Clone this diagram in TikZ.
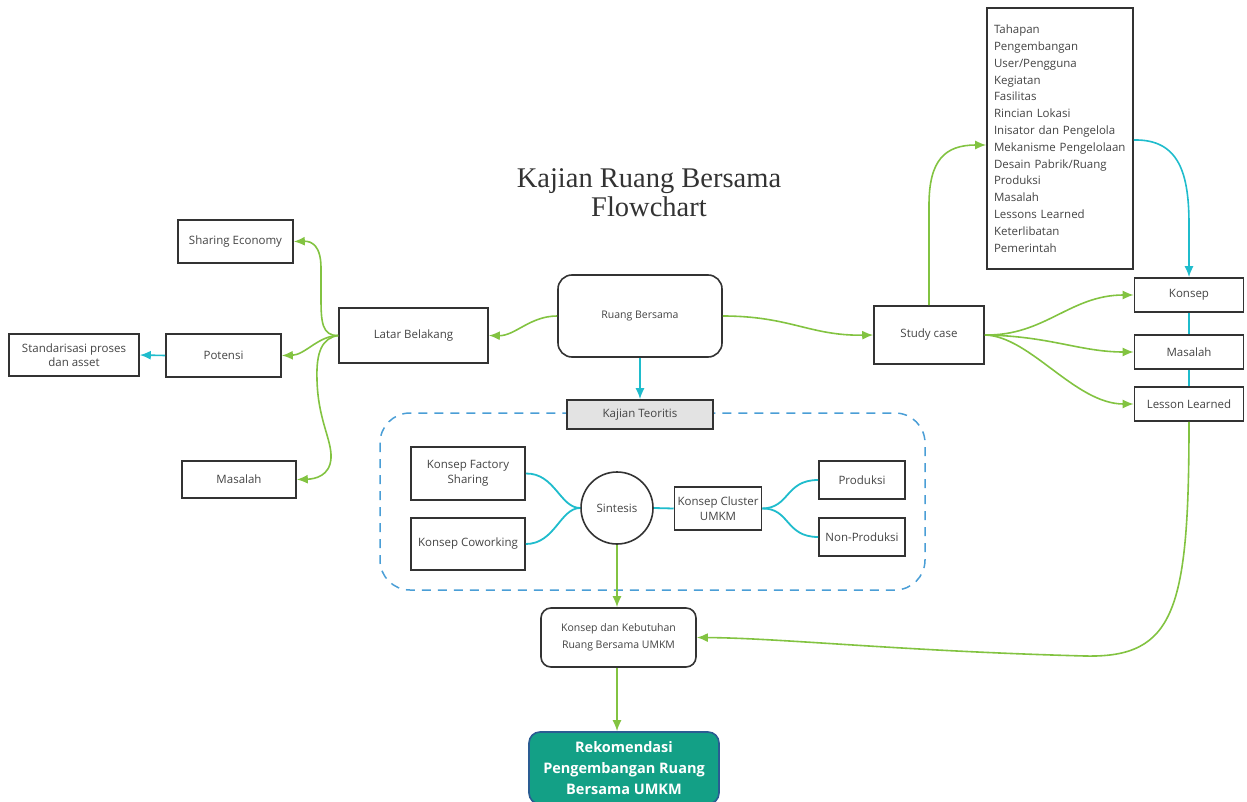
\documentclass[tikz,border=0pt]{standalone}
\usepackage{fontspec}
\setmainfont{Open Sans}
\newfontfamily\titlefont{Liberation Serif}
\usetikzlibrary{arrows.meta}
\definecolor{flowgreen}{HTML}{82C341}
\definecolor{flowcyan}{HTML}{1FBCCC}
\definecolor{framegray}{HTML}{333333}
\definecolor{txtgray}{HTML}{444444}
\definecolor{dashblue}{HTML}{4A9ED6}
\definecolor{recfill}{HTML}{13A086}
\definecolor{recborder}{HTML}{2A5C92}
\tikzset{
  box/.style={draw=framegray, line width=1.6pt, fill=white, text=txtgray,
    font=\fontsize{11.5}{14.5}\selectfont, align=center, inner sep=3pt},
  roundbox/.style={box, rounded corners=12pt},
  greenarrow/.style={draw=flowgreen, line width=1.6pt,
    -{Latex[length=11pt,width=9pt]}},
  cyanarrow/.style={draw=flowcyan, line width=1.6pt,
    -{Latex[length=11pt,width=9pt]}},
  cyanline/.style={draw=flowcyan, line width=1.8pt},
}
\begin{document}
\begin{tikzpicture}[x=1pt,y=-1pt]
\useasboundingbox (0,0) rectangle (1247,802);

% title
\node[font=\titlefont\fontsize{28.5}{29}\selectfont, text=framegray, align=center]
  (title) at (649,193) {Kajian Ruang Bersama\\Flowchart};

% theory group frame
\draw[dashblue, line width=1.5pt, dash pattern=on 9pt off 7pt, rounded corners=30pt]
  (380,413) rectangle (925,590);

% nodes
\node[roundbox, minimum width=164pt, minimum height=82pt, rounded corners=14pt,
  font=\fontsize{10.5}{13}\selectfont] (rb) at (640,316) {Ruang Bersama};
\node[box, minimum width=149pt, minimum height=55pt] (lb) at (413.5,335.5) {Latar Belakang};
\node[box, minimum width=115pt, minimum height=43pt] (se) at (235.5,241.5) {Sharing Economy};
\node[box, minimum width=115pt, minimum height=43pt] (pot) at (223.5,355.5) {Potensi};
\node[box, minimum width=130pt, minimum height=42pt] (std) at (74,355) {Standarisasi proses\\dan asset};
\node[box, minimum width=114pt, minimum height=37pt] (masL) at (239,479.5) {Masalah};
\node[box, minimum width=110pt, minimum height=58pt] (sc) at (929,335) {Study case};
\node[box, minimum width=146pt, minimum height=261pt, align=left, text width=132pt,
  inner xsep=7pt, font=\fontsize{11.5}{16.8}\selectfont] (list) at (1060,138.5)
  {Tahapan\\Pengembangan\\User/Pengguna\\Kegiatan\\Fasilitas\\Rincian Lokasi\\Inisator dan Pengelola\\Mekanisme Pengelolaan\\Desain Pabrik/Ruang\\Produksi\\Masalah\\Lessons Learned\\Keterlibatan\\Pemerintah};
\node[box, minimum width=109pt, minimum height=34pt] (kon) at (1189,295) {Konsep};
\node[box, minimum width=109pt, minimum height=34pt] (masR) at (1189,352) {Masalah};
\node[box, minimum width=109pt, minimum height=34pt] (ll) at (1189,404) {Lesson Learned};
\node[box, fill=gray!22, minimum width=146pt, minimum height=29pt] (kt) at (640,414.5) {Kajian Teoritis};
\node[box, minimum width=114pt, minimum height=53pt] (kfs) at (468,473.5) {Konsep Factory\\Sharing};
\node[box, minimum width=114pt, minimum height=52pt] (kc) at (468,544) {Konsep Coworking};
\node[box, circle, minimum size=72pt, inner sep=0pt] (sin) at (617,508) {Sintesis};
\node[box, minimum width=78pt, minimum height=43pt] (kcu) at (718,508.5) {Konsep Cluster\\UMKM};
\node[box, minimum width=86pt, minimum height=38pt] (prod) at (862,480) {Produksi};
\node[box, minimum width=86pt, minimum height=38pt] (nprod) at (862,537) {Non-Produksi};
\node[roundbox, minimum width=155pt, minimum height=59pt, rounded corners=10pt,
  font=\fontsize{10.5}{17.5}\selectfont] (kdk) at (618.5,637.5) {Konsep dan Kebutuhan\\Ruang Bersama UMKM};
\node[draw=recborder, fill=recfill, line width=1.6pt, rounded corners=11pt,
  minimum width=190pt, minimum height=72pt, align=center, text=white,
  font=\bfseries\fontsize{14.5}{21}\selectfont] (rek) at (624,768)
  {Rekomendasi\\Pengembangan Ruang\\Bersama UMKM};

% connectors from the central box
\draw[greenarrow] (rb.west) .. controls (530,316) and (515,336) .. (lb.east);
\draw[greenarrow] (rb.east) .. controls (790,316) and (810,336) .. (sc.west);
\draw[cyanarrow] (rb.south) -- (kt.north);

% background branch
\draw[greenarrow] (lb.west) .. controls (322,336) and (321,322) .. (321,298)
  -- (321,268) .. controls (321,246) and (312,241) .. (se.east);
\draw[greenarrow] (lb.west) .. controls (318,336) and (305,355) .. (pot.east);
\draw[greenarrow] (lb.west) .. controls (322,338) and (316,352) .. (317,380)
  .. controls (318,420) and (332,440) .. (331,458)
  .. controls (330,476) and (315,479) .. (masL.east);
\draw[cyanarrow] (pot.west) -- (std.east);

% study case branch
\draw[greenarrow] (sc.north) -- (929,205) .. controls (929,160) and (945,145) .. ([yshift=-6.5pt]list.west);
\draw[cyanarrow] ([yshift=-1.5pt]list.east) .. controls (1180,139) and (1189,175) .. (1189,225) -- (kon.north);
\draw[greenarrow] (sc.east) .. controls (1045,336) and (1070,295) .. (kon.west);
\draw[greenarrow] (sc.east) .. controls (1050,336) and (1080,352) .. (masR.west);
\draw[greenarrow] (sc.east) .. controls (1030,336) and (1075,404) .. (ll.west);
\draw[cyanline] (kon.south) -- (masR.north);
\draw[cyanline] (masR.south) -- (ll.north);
\draw[greenarrow] (ll.south) .. controls (1189,610) and (1175,658) .. (1085,656)
  .. controls (900,651) and (780,638) .. (kdk.east);

% theory group connectors
\draw[cyanline] (kfs.east) .. controls (555,473) and (560,508) .. (sin.west);
\draw[cyanline] (kc.east) .. controls (555,544) and (560,508) .. (sin.west);
\draw[cyanline] (sin.east) -- (kcu.west);
\draw[cyanline] (kcu.east) .. controls (790,508) and (785,480) .. (prod.west);
\draw[cyanline] (kcu.east) .. controls (790,508) and (785,537) .. (nprod.west);

% toward the recommendation
\draw[greenarrow] (sin.south) -- (sin.south |- kdk.north);
\draw[greenarrow] (sin.south |- kdk.south) -- (sin.south |- rek.north);
\end{tikzpicture}
\end{document}
